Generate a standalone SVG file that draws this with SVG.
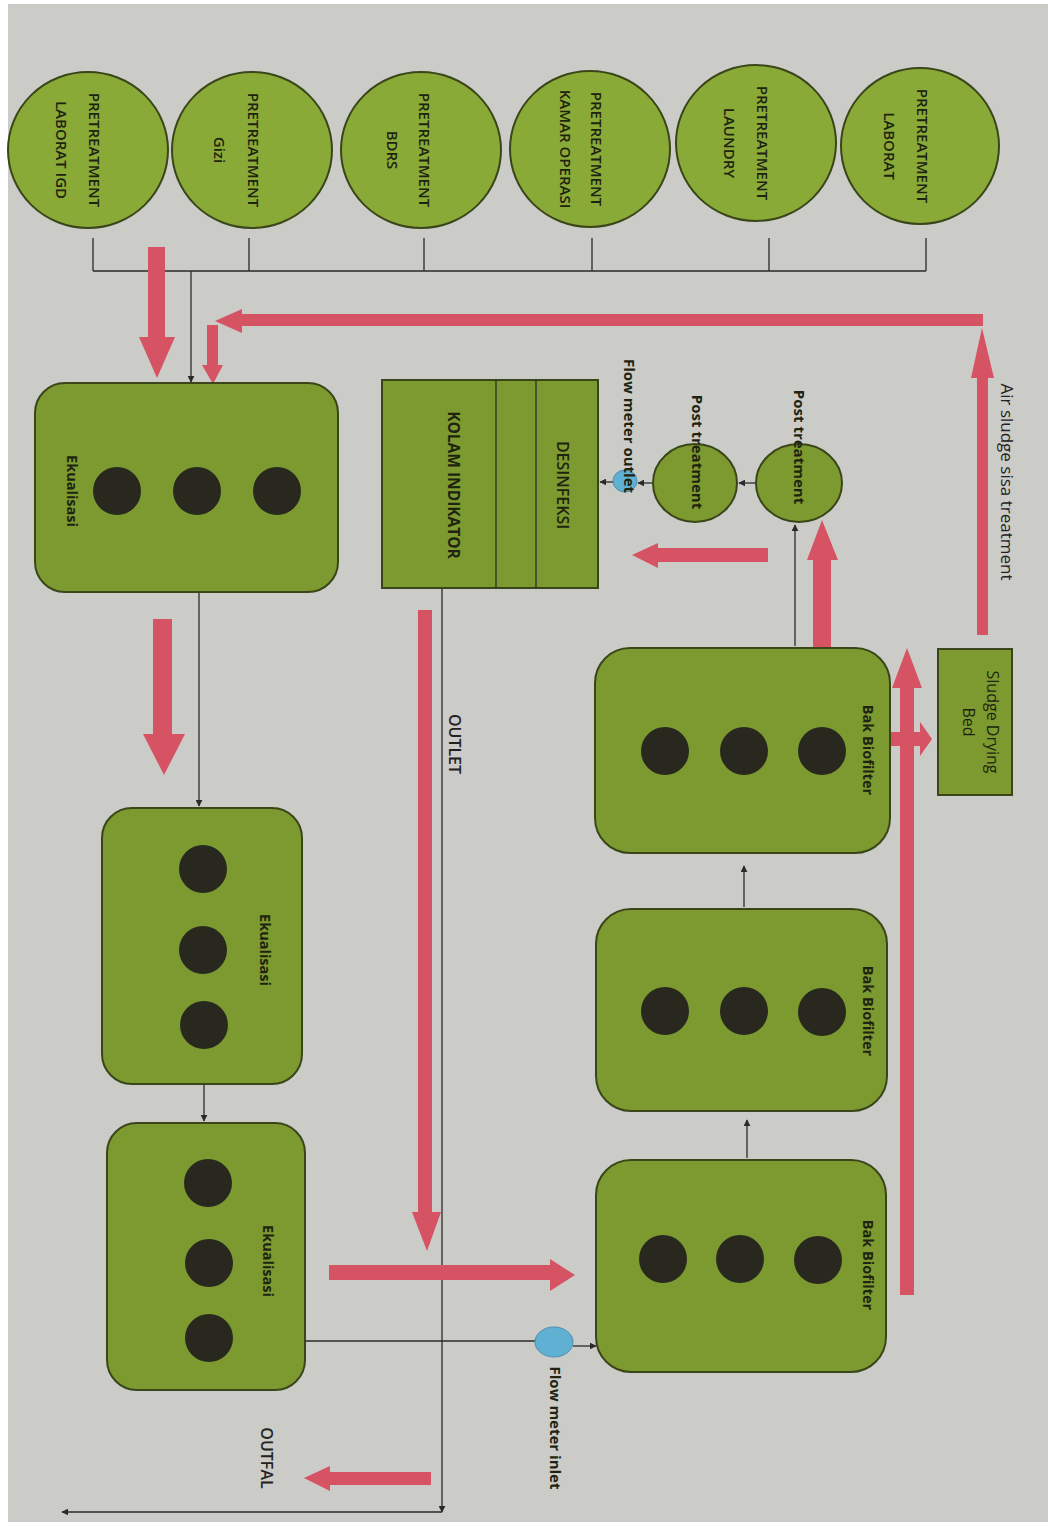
<svg xmlns="http://www.w3.org/2000/svg" width="1048" height="1526" viewBox="0 0 1048 1526">
<defs>
<style>
.paper{fill:#cbcbc8}
.node{fill:#7c9a2f;stroke:#3a4619;stroke-width:2}
.pre{fill:#8aaa37;stroke:#3a4619;stroke-width:2}
.dot{fill:#28281f}
.blue{fill:#5fb0d2;stroke:#4a8fae;stroke-width:1}
.red{fill:#d65364}
.ln{fill:none;stroke:#2a2a2a;stroke-width:1.3}
.arr{fill:none;stroke:#2a2a2a;stroke-width:1.3;marker-end:url(#ah)}
text{font-family:"Open Sans","Liberation Sans",sans-serif;text-anchor:middle;dominant-baseline:central;fill:#1e2410}
.tb{font-size:14.5px;font-weight:700}
.tp{font-size:15px;font-weight:600}
.t15{font-size:15px;font-weight:700}
.tk{font-size:15.5px;font-weight:700}
.td{font-size:16px;font-weight:600}
.tn{font-size:16px;font-weight:400}
.tl{font-size:16px;font-weight:600;fill:#222}
</style>
<marker id="ah" viewBox="0 0 10 10" refX="9" refY="5" markerWidth="7" markerHeight="7" orient="auto" markerUnits="userSpaceOnUse">
<path d="M0,0 L10,5 L0,10 z" fill="#2a2a2a"/>
</marker>
</defs>
<rect width="1048" height="1526" fill="#ffffff"/>
<rect class="paper" x="8" y="4" width="1040" height="1518"/>

<g id="connectors">
<path class="ln" d="M93,238 V271 M249,238 V271 M424,238 V271 M592,238 V271 M769,238 V271 M926,238 V271 M93,271 H926"/>
<line class="arr" x1="191" y1="271" x2="191" y2="382"/>
<line class="arr" x1="199" y1="592" x2="199" y2="806"/>
<line class="arr" x1="204" y1="1084" x2="204" y2="1121"/>
<line class="ln" x1="305" y1="1341" x2="536" y2="1341"/>
<line class="arr" x1="573" y1="1346" x2="596" y2="1346"/>
<line class="arr" x1="747" y1="1158" x2="747" y2="1120"/>
<line class="arr" x1="744" y1="907" x2="744" y2="866"/>
<line class="arr" x1="795" y1="646" x2="795" y2="525"/>
<line class="arr" x1="756" y1="483" x2="739" y2="483"/>
<line class="arr" x1="653" y1="483" x2="638" y2="483"/>
<line class="arr" x1="613" y1="482" x2="600" y2="482"/>
<line class="arr" x1="546" y1="483" x2="481" y2="483"/>
<line class="arr" x1="442" y1="588" x2="442" y2="1512"/>
<line class="arr" x1="442" y1="1512" x2="62" y2="1512"/>
<polygon class="red" points="148,247 165,247 165,337 175,337 157,378 139,337 148,337"/>
<polygon class="red" points="983,314 983,326 242,326 242,333 215,321 242,309 242,314"/>
<polygon class="red" points="207,325 218,325 218,365 223,365 213,384 202,365 207,365"/>
<polygon class="red" points="977,635 988,635 988,378 994,378 982,328 971,378 977,378"/>
<polygon class="red" points="153,619 172,619 172,734 185,734 164,775 143,734 153,734"/>
<polygon class="red" points="418,610 432,610 432,1212 441,1212 427,1251 412,1212 418,1212"/>
<polygon class="red" points="329,1265 550,1265 550,1259 575,1275 550,1291 550,1280 329,1280"/>
<polygon class="red" points="431,1472 431,1485 330,1485 330,1491 304,1478 330,1466 330,1472"/>
<polygon class="red" points="768,548 768,562 658,562 658,568 632,555 658,543 658,548"/>
<polygon class="red" points="813,648 831,648 831,560 838,560 822,520 807,560 813,560"/>
<polygon class="red" points="900,1295 914,1295 914,688 922,688 907,648 892,688 900,688"/>
<polygon class="red" points="890,732 920,732 920,722 932,739 920,756 920,746 890,746"/>
</g>

<g id="pre-laborat-igd">
<ellipse class="pre" cx="88" cy="150" rx="80" ry="78"/>
<text class="tp" transform="translate(95,150) rotate(90)">PRETREATMENT</text>
<text class="tp" transform="translate(62,150) rotate(90)">LABORAT IGD</text>
</g>
<g id="pre-gizi">
<ellipse class="pre" cx="252" cy="150" rx="80" ry="78"/>
<text class="tp" transform="translate(254,150) rotate(90)">PRETREATMENT</text>
<text class="tp" transform="translate(220,150) rotate(90)">Gizi</text>
</g>
<g id="pre-bdrs">
<ellipse class="pre" cx="421" cy="150" rx="80" ry="78"/>
<text class="tp" transform="translate(425,150) rotate(90)">PRETREATMENT</text>
<text class="tp" transform="translate(393,150) rotate(90)">BDRS</text>
</g>
<g id="pre-kamar-operasi">
<ellipse class="pre" cx="590" cy="149" rx="80" ry="78"/>
<text class="tp" transform="translate(597,149) rotate(90)">PRETREATMENT</text>
<text class="tp" transform="translate(566,149) rotate(90)">KAMAR OPERASI</text>
</g>
<g id="pre-laundry">
<ellipse class="pre" cx="756" cy="143" rx="80" ry="78"/>
<text class="tp" transform="translate(763,143) rotate(90)">PRETREATMENT</text>
<text class="tp" transform="translate(730,143) rotate(90)">LAUNDRY</text>
</g>
<g id="pre-laborat">
<ellipse class="pre" cx="920" cy="146" rx="79" ry="78"/>
<text class="tp" transform="translate(923,146) rotate(90)">PRETREATMENT</text>
<text class="tp" transform="translate(890,146) rotate(90)">LABORAT</text>
</g>

<g id="ekualisasi-1">
<rect class="node" x="35" y="383" width="303" height="209" rx="30"/>
<circle class="dot" cx="117" cy="491" r="24"/>
<circle class="dot" cx="197" cy="491" r="24"/>
<circle class="dot" cx="277" cy="491" r="24"/>
<text class="tb" transform="translate(72,491) rotate(90)">Ekualisasi</text>
</g>
<g id="ekualisasi-2">
<rect class="node" x="102" y="808" width="200" height="276" rx="30"/>
<circle class="dot" cx="203" cy="869" r="24"/>
<circle class="dot" cx="203" cy="950" r="24"/>
<circle class="dot" cx="204" cy="1025" r="24"/>
<text class="tb" transform="translate(265,950) rotate(90)">Ekualisasi</text>
</g>
<g id="ekualisasi-3">
<rect class="node" x="107" y="1123" width="198" height="267" rx="30"/>
<circle class="dot" cx="208" cy="1183" r="24"/>
<circle class="dot" cx="209" cy="1263" r="24"/>
<circle class="dot" cx="209" cy="1338" r="24"/>
<text class="tb" transform="translate(268,1261) rotate(90)">Ekualisasi</text>
</g>

<g id="kolam-desinfeksi">
<rect class="node" x="382" y="380" width="216" height="208"/>
<line class="ln" x1="496" y1="380" x2="496" y2="588"/>
<line class="ln" x1="536" y1="380" x2="536" y2="588"/>
<text class="tk" transform="translate(454,485) rotate(90)">KOLAM INDIKATOR</text>
<text class="td" transform="translate(563,485) rotate(90)">DESINFEKSI</text>
</g>

<g id="flow-meter-outlet">
<ellipse class="blue" cx="625" cy="481" rx="12" ry="11"/>
<text class="t15" transform="translate(630,426) rotate(90)">Flow meter outlet</text>
</g>
<g id="post-treatment-2">
<ellipse class="node" cx="695" cy="483" rx="42" ry="39"/>
<text class="t15" transform="translate(698,452) rotate(90)">Post treatment</text>
</g>
<g id="post-treatment-1">
<ellipse class="node" cx="799" cy="483" rx="43" ry="39"/>
<text class="t15" transform="translate(800,447) rotate(90)">Post treatment</text>
</g>

<g id="bak-biofilter-3">
<rect class="node" x="595" y="648" width="295" height="205" rx="35"/>
<circle class="dot" cx="665" cy="751" r="24"/>
<circle class="dot" cx="744" cy="751" r="24"/>
<circle class="dot" cx="822" cy="751" r="24"/>
<text class="tb" transform="translate(868,750) rotate(90)">Bak Biofilter</text>
</g>
<g id="bak-biofilter-2">
<rect class="node" x="596" y="909" width="291" height="202" rx="35"/>
<circle class="dot" cx="665" cy="1011" r="24"/>
<circle class="dot" cx="744" cy="1011" r="24"/>
<circle class="dot" cx="822" cy="1012" r="24"/>
<text class="tb" transform="translate(868,1011) rotate(90)">Bak Biofilter</text>
</g>
<g id="bak-biofilter-1">
<rect class="node" x="596" y="1160" width="290" height="212" rx="35"/>
<circle class="dot" cx="663" cy="1259" r="24"/>
<circle class="dot" cx="740" cy="1259" r="24"/>
<circle class="dot" cx="818" cy="1260" r="24"/>
<text class="tb" transform="translate(868,1265) rotate(90)">Bak Biofilter</text>
</g>

<g id="sludge-drying-bed">
<rect class="node" x="938" y="649" width="74" height="146"/>
<text class="tn" transform="translate(993,722) rotate(90)">Sludge Drying</text>
<text class="tn" transform="translate(969,722) rotate(90)">Bed</text>
</g>

<g id="flow-meter-inlet">
<ellipse class="blue" cx="554" cy="1342" rx="19" ry="15"/>
<text class="t15" transform="translate(556,1428) rotate(90)">Flow meter inlet</text>
</g>

<g id="labels">
<text class="tn" transform="translate(1007,482) rotate(90)" style="fill:#222;font-size:17px">Air sludge sisa treatment</text>
<text class="tl" transform="translate(455,744) rotate(90)">OUTLET</text>
<text class="tl" transform="translate(267,1458) rotate(90)">OUTFAL</text>
</g>
</svg>
